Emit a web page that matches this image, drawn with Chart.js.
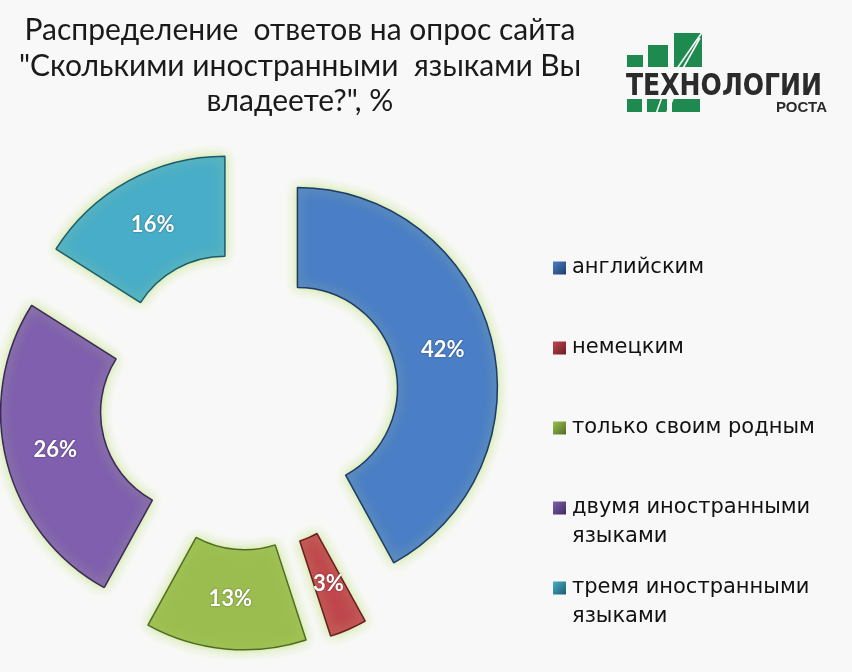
<!DOCTYPE html>
<html>
<head>
<meta charset="utf-8">
<script src="https://cdn.jsdelivr.net/npm/chart.js@4.4.1/dist/chart.umd.min.js"></script>
<style>
html,body{margin:0;padding:0;background:#f8f8f8;}
#wrap{width:852px;height:672px;position:relative;overflow:hidden;}
canvas{display:block;}
</style>
</head>
<body>
<div id="wrap"><canvas id="c" width="852" height="672"></canvas></div>
<script>
// ---- data ----
const titleLines = ['Распределение  ответов на опрос сайта', '"Сколькими иностранными  языками Вы', 'владеете?", %'];
const categories = ['английским', 'немецким', 'только своим родным', 'двумя иностранными языками', 'тремя иностранными языками'];
const legendLines = [['английским'], ['немецким'], ['только своим родным'], ['двумя иностранными', 'языками'], ['тремя иностранными', 'языками']];
const values = [42, 3, 13, 26, 16];
const valueLabels = ['42%', '3%', '13%', '26%', '16%'];
const logoWord = 'ТЕХНОЛОГИИ';
const logoSub = 'РОСТА';

// ---- styles ----
const fills = ['#4a7ec6', '#c0464e', '#9bbd4f', '#7f5fae', '#48adc8'];
const edges = ['#1f3a66', '#6a1c22', '#506b24', '#3c2a5a', '#1c5a6c'];
const EXPLODE = 50;

const explodePlugin = {
  id: 'explode',
  afterDatasetUpdate(chart, args) {
    args.meta.data.forEach(arc => {
      const mid = (arc.startAngle + arc.endAngle) / 2;
      arc.x += Math.cos(mid) * EXPLODE;
      arc.y += Math.sin(mid) * EXPLODE;
    });
  }
};

const glowPlugin = {
  id: 'glow',
  beforeDatasetDraw(chart) {
    const c = chart.ctx;
    c.save();
    c.shadowColor = 'rgba(195,228,130,0.95)';
    c.shadowBlur = 12;
  },
  afterDatasetDraw(chart) {
    chart.ctx.restore();
  }
};

const decorPlugin = {
  id: 'decor',
  afterDatasetsDraw(chart) {
    const c = chart.ctx;
    const meta = chart.getDatasetMeta(0);
    // value labels
    c.save();
    c.font = 'bold 22px Lato, "Open Sans", sans-serif';
    c.textAlign = 'center';
    c.textBaseline = 'middle';
    c.fillStyle = '#ffffff';
    c.shadowColor = 'rgba(0,0,0,0.45)';
    c.shadowBlur = 2;
    meta.data.forEach((arc, i) => {
      const mid = (arc.startAngle + arc.endAngle) / 2;
      const rr = (arc.innerRadius + arc.outerRadius) / 2;
      c.fillText(valueLabels[i], arc.x + Math.cos(mid) * rr, arc.y + Math.sin(mid) * rr);
    });
    c.restore();

    // title
    c.save();
    c.font = '30px Lato, "Open Sans", sans-serif';
    c.fillStyle = '#1a1a1a';
    c.textAlign = 'center';
    c.textBaseline = 'alphabetic';
    titleLines.forEach((t, i) => c.fillText(t, 300, 40 + i * 35.5));
    c.restore();

    // legend
    c.save();
    c.font = '21px "DejaVu Sans", sans-serif';
    c.textBaseline = 'middle';
    c.textAlign = 'left';
    legendLines.forEach((lines, i) => {
      const y = 268 + i * 80;
      const g = c.createLinearGradient(553, y - 6, 566, y + 7);
      g.addColorStop(0, fills[i]);
      g.addColorStop(1, edges[i]);
      c.fillStyle = g;
      c.fillRect(553, y - 6.5, 13, 13);
      c.fillStyle = '#111111';
      lines.forEach((ln, j) => c.fillText(ln, 572, y + j * 29));
    });
    c.restore();

    // logo
    c.save();
    c.fillStyle = '#1f8a4f';
    c.fillRect(627, 55, 16, 12);
    c.fillRect(648, 45, 20, 22);
    c.fillRect(674, 33, 28, 34);
    c.fillRect(627, 99, 15, 13);
    c.fillRect(647, 99, 20, 13);
    c.fillRect(672, 99, 28, 13);
    c.strokeStyle = '#f8f8f8';
    c.lineWidth = 1.6;
    c.beginPath();
    c.moveTo(676, 70); c.lineTo(703, 31);
    c.moveTo(682, 70); c.lineTo(700, 38);
    c.moveTo(656, 114); c.lineTo(662, 97);
    c.moveTo(666, 114); c.lineTo(674, 97);
    c.stroke();
    c.fillStyle = '#2b2b2b';
    c.font = 'bold 30px "Liberation Sans Narrow", "DejaVu Sans Condensed", "Liberation Sans", sans-serif';
    c.textBaseline = 'alphabetic';
    c.textAlign = 'left';
    c.fillText(logoWord, 626, 95, 196);
    c.font = 'bold 15px "Liberation Sans", sans-serif';
    c.textAlign = 'right';
    c.fillText(logoSub, 827, 112);
    c.restore();
  }
};

new Chart(document.getElementById('c'), {
  type: 'doughnut',
  data: {
    labels: categories,
    datasets: [{
      data: values,
      backgroundColor: fills,
      borderColor: edges,
      borderWidth: 1.5,
      radius: 200,
      cutout: '50%',
      clip: false
    }]
  },
  options: {
    responsive: false,
    animation: false,
    radius: 200,
    cutout: '50%',
    layout: { padding: { left: 0, right: 354, top: 128, bottom: 0 } },
    plugins: {
      legend: { display: false },
      title: { display: false },
      tooltip: { enabled: false }
    }
  },
  plugins: [explodePlugin, glowPlugin, decorPlugin]
});
</script>
</body>
</html>
